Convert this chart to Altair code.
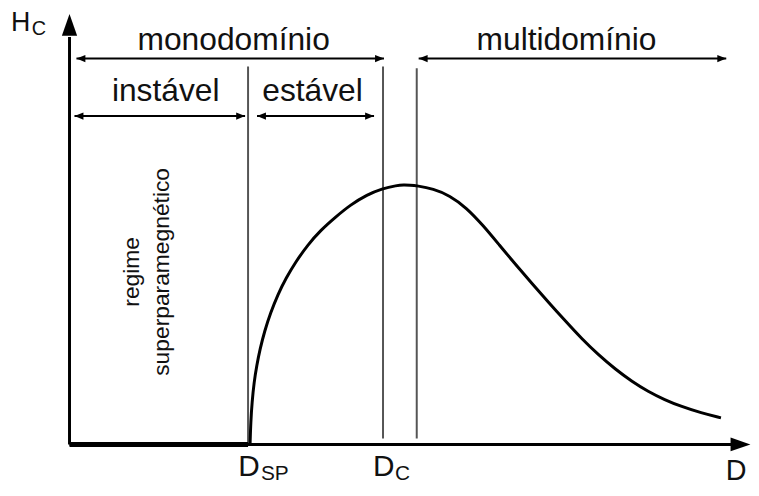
import altair as alt
import pandas as pd

# ---- data (arbitrary units: D = particle diameter, Hc = coercivity) ----
curve_D = [28.00, 28.11, 28.31, 28.62, 29.03, 29.54, 30.26, 31.18, 32.31, 33.58,
           35.12, 36.92, 38.97, 41.28, 43.58, 46.15, 48.46, 50.77, 51.80, 52.82,
           53.85, 56.42, 58.97, 61.54, 64.11, 66.66, 69.23, 71.80, 74.35, 76.92,
           79.49, 82.05, 84.62, 87.18, 89.74, 92.31, 94.88, 97.95, 101.03]
curve_Hc = [0.0, 8.7, 16.4, 24.1, 30.5, 36.9, 44.0, 51.0, 58.1, 64.5,
            70.9, 77.3, 83.1, 88.2, 92.9, 96.8, 99.2, 100.4, 100.6, 100.5,
            100.3, 99.1, 96.5, 91.8, 85.0, 77.3, 69.6, 62.2, 54.9, 47.8,
            40.8, 34.7, 29.2, 24.5, 20.5, 17.3, 14.7, 12.2, 10.3]

D_SP = 27.69
D_C = 48.62
D_MD = 53.85

vline_D = [D_SP, D_C, D_MD]
vline_bottom = [0.0, 2.3, 2.3]
vline_top = [146.5, 146.5, 145.8]

arrow_labels = ["monodomínio", "multidomínio", "instável", "estável"]
arrow_from = [1.08, 54.15, 0.77, 29.08]
arrow_to = [48.77, 101.85, 27.23, 47.23]
arrow_level = [149.6, 149.6, 127.3, 127.3]
label_D = [25.46, 77.08, 14.92, 37.69]
label_Hc = [153.1, 153.1, 133.1, 133.1]

regime_labels = ["regime", "superparamegnético"]
regime_D = [9.69, 14.3]
regime_Hc = [66.9, 66.9]

x_axis_end = 103.0
x_axis_tip = 105.6
y_axis_end = 158.0
y_axis_tip = 166.9

X_DOMAIN = [-9.54, 105.69]
Y_DOMAIN = [-15.38, 168.46]
W, H = 749, 478
FONT = "Liberation Sans"

xs = alt.Scale(domain=X_DOMAIN, nice=False, zero=False)
ys = alt.Scale(domain=Y_DOMAIN, nice=False, zero=False)


def X(field):
    return alt.X(field, type="quantitative", scale=xs, axis=None)


def Y(field):
    return alt.Y(field, type="quantitative", scale=ys, axis=None)


# axes
axes_df = pd.DataFrame({"x": [0.0, 0.0], "x2": [x_axis_end, 0.0],
                        "y": [0.0, 0.0], "y2": [0.0, y_axis_end]})
axes = alt.Chart(axes_df).mark_rule(color="black", strokeWidth=3).encode(
    x=X("x"), x2="x2", y=Y("y"), y2="y2")

thick_df = pd.DataFrame({"x": [0.0], "x2": [D_SP], "y": [0.0]})
thick = alt.Chart(thick_df).mark_rule(color="black", strokeWidth=5).encode(
    x=X("x"), x2="x2", y=Y("y"))

ax_heads_df = pd.DataFrame({"x": [x_axis_tip], "y": [0.0]})
x_head = alt.Chart(ax_heads_df).mark_point(
    shape="M0,0 L-2,-0.7 L-2,0.7 Z", size=400, filled=True, color="black",
    opacity=1, strokeWidth=0).encode(x=X("x"), y=Y("y"))
y_head_df = pd.DataFrame({"x": [0.0], "y": [y_axis_tip]})
y_head = alt.Chart(y_head_df).mark_point(
    shape="M0,0 L-0.7,2 L0.7,2 Z", size=484, filled=True, color="black",
    opacity=1, strokeWidth=0).encode(x=X("x"), y=Y("y"))

# vertical lines
vl_df = pd.DataFrame({"x": vline_D, "y": vline_bottom, "y2": vline_top})
vlines = alt.Chart(vl_df).mark_rule(color="#555555", strokeWidth=2).encode(
    x=X("x"), y=Y("y"), y2="y2")

# curve
curve_df = pd.DataFrame({"D": curve_D, "Hc": curve_Hc})
curve = alt.Chart(curve_df).mark_line(
    color="black", strokeWidth=3, interpolate="basis").encode(
    x=X("D"), y=Y("Hc"), order="D:Q")

# double-headed arrows
arr_df = pd.DataFrame({"label": arrow_labels, "x1": arrow_from, "x2": arrow_to,
                       "y": arrow_level, "tx": label_D, "ty": label_Hc})
shafts = alt.Chart(arr_df).mark_rule(color="black", strokeWidth=2).encode(
    x=X("x1"), x2="x2", y=Y("y"))
left_heads = alt.Chart(arr_df).mark_point(
    shape="M0,0 L2,-0.8 L2,0.8 Z", size=81, filled=True, color="black",
    opacity=1, strokeWidth=0).encode(x=X("x1"), y=Y("y"))
right_heads = alt.Chart(arr_df).mark_point(
    shape="M0,0 L-2,-0.8 L-2,0.8 Z", size=81, filled=True, color="black",
    opacity=1, strokeWidth=0).encode(x=X("x2"), y=Y("y"))
arr_text = alt.Chart(arr_df).mark_text(
    font=FONT, fontSize=32, color="#111111", align="center",
    baseline="alphabetic").encode(x=X("tx"), y=Y("ty"), text="label:N")

# rotated regime text
reg_df = pd.DataFrame({"label": regime_labels, "x": regime_D, "y": regime_Hc})
reg_text = alt.Chart(reg_df).mark_text(
    font=FONT, fontSize=23, color="#111111", angle=270, align="center",
    baseline="middle").encode(x=X("x"), y=Y("y"), text="label:N")


# axis labels
def label(text, xval, yval, size, dx, dy, align="left"):
    df = pd.DataFrame({"t": [text], "x": [xval], "y": [yval]})
    return alt.Chart(df).mark_text(
        font=FONT, fontSize=size, color="#111111", align=align,
        baseline="alphabetic", dx=dx, dy=dy).encode(
        x=X("x"), y=Y("y"), text="t:N")


labels = [
    label("D", D_SP, 0.0, 30, -10, 32),
    label("SP", D_SP, 0.0, 21, 13, 36),
    label("D", D_C, 0.0, 30, -10, 32),
    label("C", D_C, 0.0, 21, 12, 36),
    label("D", x_axis_tip, 0.0, 29, -4, 36, align="right"),
    label("H", 0.0, y_axis_tip, 27, -59, 17),
    label("C", 0.0, y_axis_tip, 20, -38, 21),
]

chart = alt.layer(
    vlines, curve, thick, axes, x_head, y_head, shafts, left_heads,
    right_heads, arr_text, reg_text, *labels
).properties(
    width=W, height=H, padding=0, autosize="none", background="white"
).configure_view(stroke=None)

chart.save("out.html", embed_options={"renderer": "svg", "actions": False})
